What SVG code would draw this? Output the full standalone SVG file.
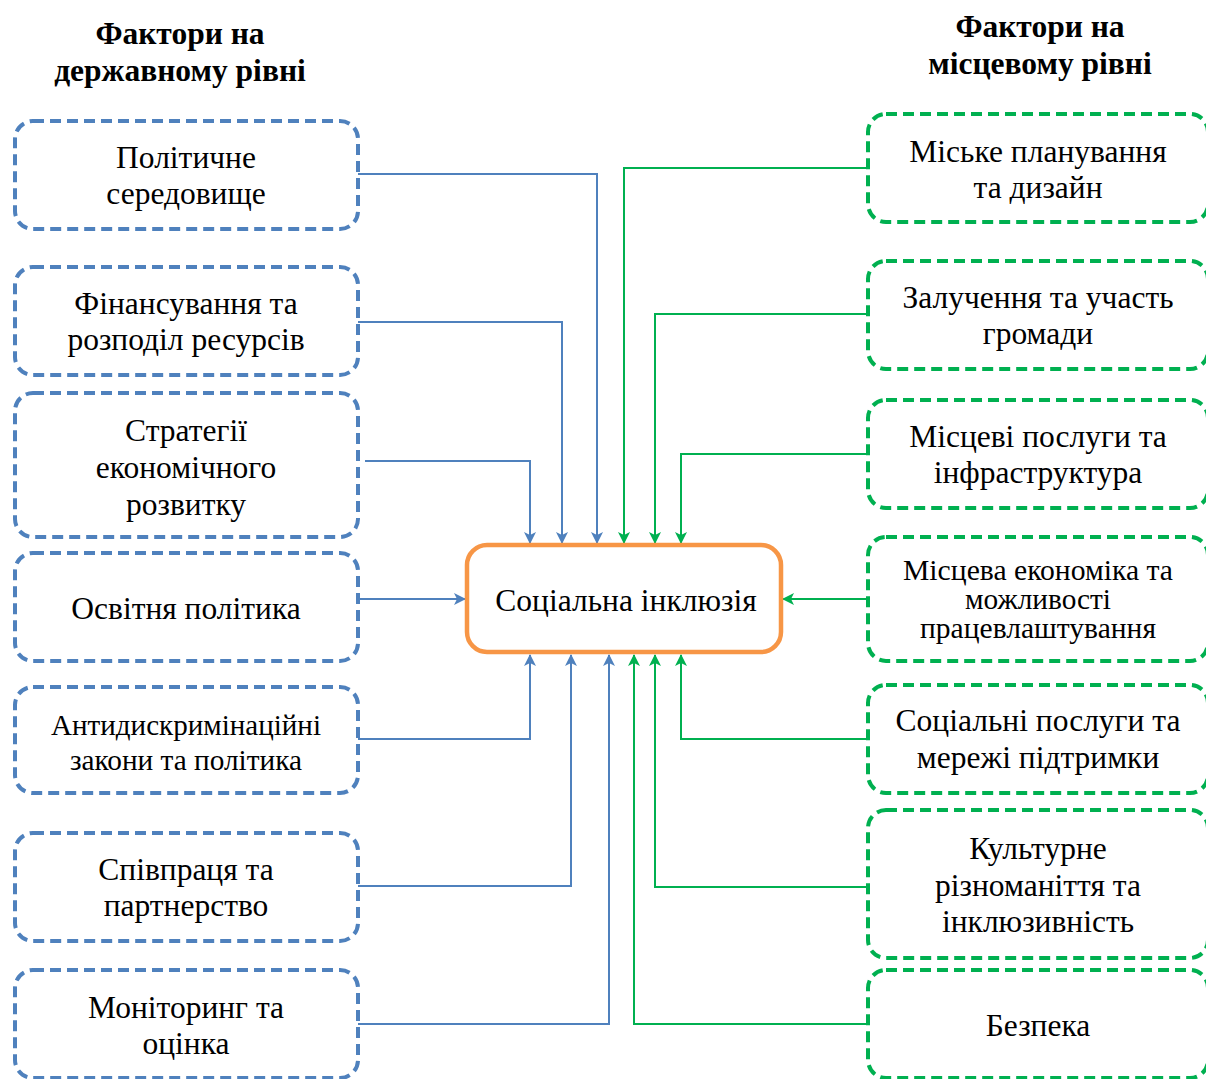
<svg xmlns="http://www.w3.org/2000/svg" width="1206" height="1079" viewBox="0 0 1206 1079">
<style>
text{font-family:"Liberation Serif","Times New Roman",serif;font-size:31.5px;fill:#000;text-anchor:middle}
.h{font-weight:bold;font-size:31.5px}
.c{font-size:29px}
.bl{fill:#fff;stroke:#4F81BD;stroke-width:4;stroke-dasharray:11 6}
.gr{fill:#fff;stroke:#00B050;stroke-width:4;stroke-dasharray:11 6}
.cb{fill:#fff;stroke:#F79646;stroke-width:4.5}
.lb{fill:none;stroke:#4F81BD;stroke-width:2;marker-end:url(#ab)}
.lg{fill:none;stroke:#00B050;stroke-width:2;marker-end:url(#ag)}
</style>
<defs>
<marker id="ab" viewBox="0 0 12 12" refX="11" refY="6" markerWidth="12" markerHeight="12" markerUnits="userSpaceOnUse" orient="auto">
<path d="M0,0 L12,6 L0,12 L3,6 Z" fill="#4F81BD"/>
</marker>
<marker id="ag" viewBox="0 0 12 12" refX="11" refY="6" markerWidth="12" markerHeight="12" markerUnits="userSpaceOnUse" orient="auto">
<path d="M0,0 L12,6 L0,12 L3,6 Z" fill="#00B050"/>
</marker>
</defs>
<rect width="1206" height="1079" fill="#fff"/>

<g id="headers">
<text class="h" x="180" y="44">Фактори на</text>
<text class="h" x="180" y="81">державному рівні</text>
<text class="h" x="1040" y="37">Фактори на</text>
<text class="h" x="1040" y="74">місцевому рівні</text>
</g>

<g id="connectors">
<polyline class="lb" points="358,174 597,174 597,543"/>
<polyline class="lb" points="358,322 562,322 562,543"/>
<polyline class="lb" points="365,461 530,461 530,543"/>
<polyline class="lb" points="358,599 465,599"/>
<polyline class="lb" points="358,739 530,739 530,655"/>
<polyline class="lb" points="358,886 571,886 571,655"/>
<polyline class="lb" points="358,1024 609,1024 609,655"/>
<polyline class="lg" points="867,168 624,168 624,543"/>
<polyline class="lg" points="867,314 655,314 655,543"/>
<polyline class="lg" points="867,454 681,454 681,543"/>
<polyline class="lg" points="867,599 783,599"/>
<polyline class="lg" points="867,739 681,739 681,655"/>
<polyline class="lg" points="867,887 655,887 655,655"/>
<polyline class="lg" points="867,1024 634,1024 634,655"/>
</g>

<g id="center">
<rect class="cb" x="467" y="545" width="314" height="107" rx="20"/>
<text x="626" y="611">Соціальна інклюзія</text>
</g>

<g id="l1"><rect class="bl" x="15" y="121" width="343" height="108" rx="18"/>
<text x="186" y="168">Політичне</text><text x="186" y="204">середовище</text></g>
<g id="l2"><rect class="bl" x="15" y="267" width="343" height="108" rx="18"/>
<text x="186" y="314">Фінансування та</text><text x="186" y="350">розподіл ресурсів</text></g>
<g id="l3"><rect class="bl" x="15" y="393" width="343" height="144" rx="18"/>
<text x="186" y="441">Стратегії</text><text x="186" y="478">економічного</text><text x="186" y="515">розвитку</text></g>
<g id="l4"><rect class="bl" x="15" y="553" width="343" height="108" rx="18"/>
<text x="186" y="619">Освітня політика</text></g>
<g id="l5"><rect class="bl" x="15" y="687" width="343" height="106" rx="18"/>
<text class="c" x="186" y="735" textLength="270" lengthAdjust="spacingAndGlyphs">Антидискримінаційні</text><text class="c" x="186" y="770" textLength="232" lengthAdjust="spacingAndGlyphs">закони та політика</text></g>
<g id="l6"><rect class="bl" x="15" y="833" width="343" height="108" rx="18"/>
<text x="186" y="880">Співпраця та</text><text x="186" y="916">партнерство</text></g>
<g id="l7"><rect class="bl" x="15" y="970" width="343" height="108" rx="18"/>
<text x="186" y="1018">Моніторинг та</text><text x="186" y="1054">оцінка</text></g>

<g id="r1"><rect class="gr" x="868" y="114" width="340" height="108" rx="18"/>
<text x="1038" y="162">Міське планування</text><text x="1038" y="198">та дизайн</text></g>
<g id="r2"><rect class="gr" x="868" y="261" width="340" height="108" rx="18"/>
<text x="1038" y="308">Залучення та участь</text><text x="1038" y="344">громади</text></g>
<g id="r3"><rect class="gr" x="868" y="400" width="340" height="108" rx="18"/>
<text x="1038" y="447">Місцеві послуги та</text><text x="1038" y="483">інфраструктура</text></g>
<g id="r4"><rect class="gr" x="868" y="537" width="340" height="124" rx="18"/>
<text class="c" x="1038" y="580" textLength="270" lengthAdjust="spacingAndGlyphs">Місцева економіка та</text><text class="c" x="1038" y="609" textLength="146" lengthAdjust="spacingAndGlyphs">можливості</text><text class="c" x="1038" y="638" textLength="236" lengthAdjust="spacingAndGlyphs">працевлаштування</text></g>
<g id="r5"><rect class="gr" x="868" y="685" width="340" height="108" rx="18"/>
<text x="1038" y="731">Соціальні послуги та</text><text x="1038" y="768">мережі підтримки</text></g>
<g id="r6"><rect class="gr" x="868" y="810" width="340" height="148" rx="18"/>
<text x="1038" y="859">Культурне</text><text x="1038" y="896">різноманіття та</text><text x="1038" y="932">інклюзивність</text></g>
<g id="r7"><rect class="gr" x="868" y="970" width="340" height="108" rx="18"/>
<text x="1038" y="1036">Безпека</text></g>
</svg>
